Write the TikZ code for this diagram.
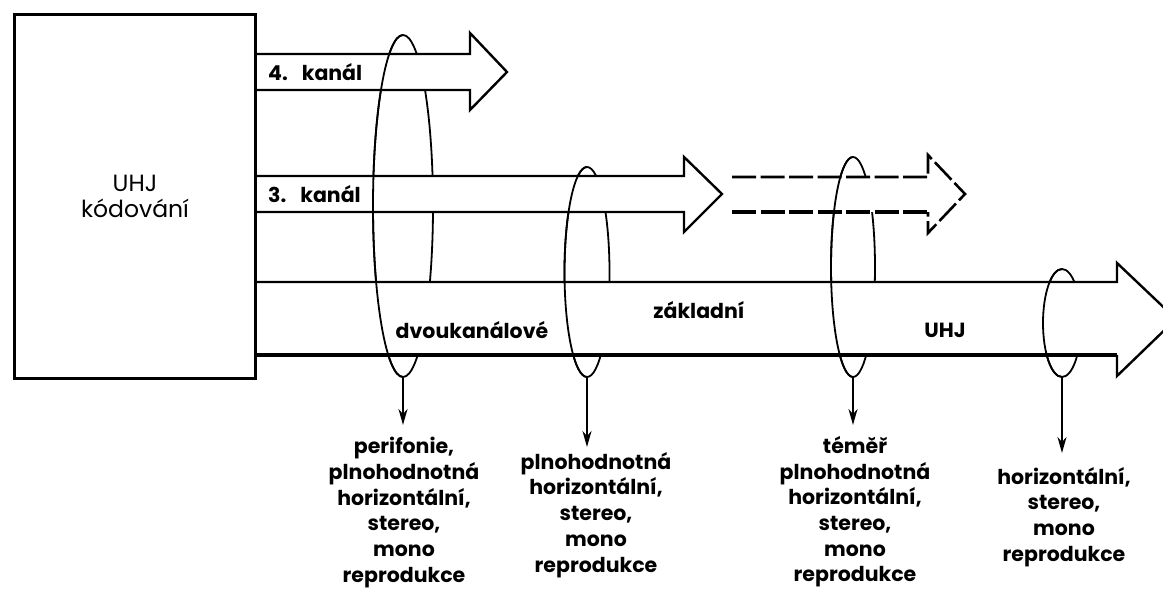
\documentclass[tikz,border=0pt]{standalone}
\usepackage{fontspec}
\setmainfont{Poppins}
\usetikzlibrary{arrows.meta}
\begin{document}
\begin{tikzpicture}[x=1pt,y=-1pt,
  ring/.style={line width=1.8pt},
  band/.style={line width=2.4pt, fill=white, line join=miter},
  lbl/.style={font=\fontsize{20.5}{25.7}\selectfont\bfseries, align=center, anchor=north, inner sep=0pt},
  tag/.style={font=\fontsize{20.5}{24}\selectfont\bfseries, inner sep=0pt},
  down/.style={line width=1.8pt, -{Stealth[length=16pt,width=9pt,inset=5pt]}},
  thindash/.style={line width=2.6pt, dash pattern=on 24pt off 4.5pt},
  thickdash/.style={line width=4pt, dash pattern=on 24pt off 4.5pt}
]
\useasboundingbox (0,0) rectangle (1163,589);
\clip (0,0) rectangle (1163,589);

% encoder box
\node[draw, line width=3pt, minimum width=241pt, minimum height=364pt, anchor=north west,
      inner sep=0pt, font=\fontsize{23.5}{25.5}\selectfont, align=center] (enc) at (13,13) {UHJ\\kódování};

% rings (full, the hidden parts get covered by the bands)
\draw[ring] (403,206) ellipse [x radius=30, y radius=171];
\draw[ring] (587,272) ellipse [x radius=22.5, y radius=105];
\draw[ring] (853,267) ellipse [x radius=22, y radius=110];
\draw[ring] (1062,323) ellipse [x radius=19, y radius=54];

% channel 4
\draw[band] (enc.east |- 0,54) -- (470,54) -- (470,33) -- (507,72) -- (470,110) -- (470,90) -- (enc.east |- 0,90);
% channel 3
\draw[band] (enc.east |- 0,176) -- (684,176) -- (684,157) -- (722,194) -- (684,232) -- (684,212) -- (enc.east |- 0,212);
% dashed continuation
\fill[white] (732,177) -- (928,177) -- (928,155) -- (965,194) -- (928,233) -- (928,212) -- (732,212) -- cycle;
\draw[thindash] (732,177) -- (928,177) -- (928,155) -- (965,194) -- (928,233) -- (928,212);
\draw[thickdash] (732,212) -- (928,212);
% main band
\fill[white] (enc.east |- 0,282) -- (1117,282) -- (1117,263) -- (1176,319) -- (1117,376) -- (1117,355) -- (enc.east |- 0,355) -- cycle;
\draw[line width=2.4pt, line join=miter] (enc.east |- 0,282) -- (1117,282) -- (1117,263) -- (1176,319) -- (1117,376) -- (1117,355);
\draw[line width=4.5pt] (1117,355) -- (enc.east |- 0,355);

% front halves of the rings
\draw[ring] (403,377) arc[start angle=90, end angle=270, x radius=30, y radius=171];
\draw[ring] (587,377) arc[start angle=90, end angle=270, x radius=22.5, y radius=105];
\draw[ring] (853,377) arc[start angle=90, end angle=270, x radius=22, y radius=110];
\draw[ring] (1062,377) arc[start angle=90, end angle=270, x radius=19, y radius=54];

% band labels
\node[tag, anchor=west] (k4) at (268,72) {4.\hspace{14pt}kanál};
\node[tag, anchor=west] (k3) at (268,194) {3.\hspace{14pt}kanál};
\node[tag] (dv) at (472,330) {dvoukanálové};
\node[tag] (zk) at (699,310) {základní};
\node[tag] (uhj) at (945,330) {UHJ};

% ring outputs
\coordinate (b1) at (403,377);
\coordinate (b2) at (587,377);
\coordinate (b3) at (853,377);
\coordinate (b4) at (1062,377);
\coordinate (t1) at (403,425);
\coordinate (t2) at (587,447);
\coordinate (t3) at (853,425);
\coordinate (t4) at (1062,453);
\draw[down] (b1) -- (t1);
\draw[down] (b2) -- (t2);
\draw[down] (b3) -- (t3);
\draw[down] (b4) -- (t4);

\node[lbl] (l1) at (404,437) {perifonie,\\plnohodnotná\\horizontální,\\stereo,\\mono\\reprodukce};
\node[lbl] (l2) at (596,452) {plnohodnotná\\horizontální,\\stereo,\\mono\\reprodukce};
\node[lbl] (l3) at (855,436) {téměř\\plnohodnotná\\horizontální,\\stereo,\\mono\\reprodukce};
\node[lbl] (l4) at (1064,467) {horizontální,\\stereo,\\mono\\reprodukce};
\end{tikzpicture}
\end{document}
